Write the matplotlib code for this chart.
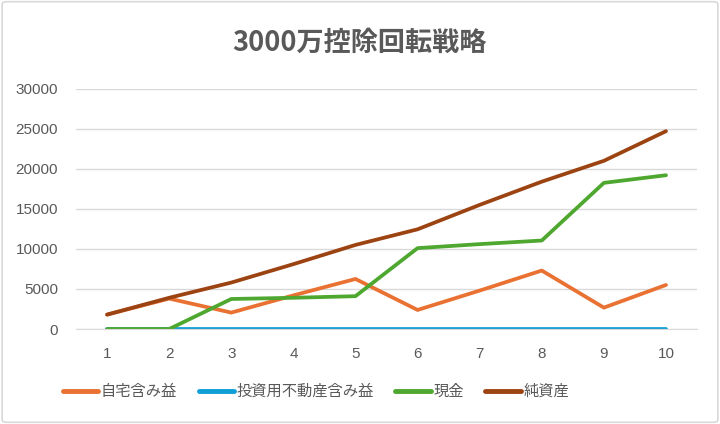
import matplotlib
matplotlib.use("Agg")
import matplotlib.pyplot as plt
import numpy as np
from matplotlib.patches import FancyBboxPatch

plt.rcParams['font.family'] = ['Liberation Sans', 'Noto Sans CJK JP', 'DejaVu Sans']

years = [1, 2, 3, 4, 5, 6, 7, 8, 9, 10]
home_gain = [1800, 3800, 2050, 4200, 6250, 2380, 4800, 7300, 2670, 5500]
invest_gain = [0, 0, 0, 0, 0, 0, 0, 0, 0, 0]
cash = [0, 0, 3750, 3900, 4100, 10100, 10600, 11050, 18250, 19200]
net_assets = [1800, 3900, 5800, 8100, 10500, 12450, 15500, 18400, 21000, 24700]

labels = ['自宅含み益', '投資用不動産含み益', '現金', '純資産']
colors = ['#E97132', '#0F9ED5', '#4EA72E', '#9C4312']
title = '3000万控除回転戦略'
yticks = [0, 5000, 10000, 15000, 20000, 25000, 30000]

fig = plt.figure(figsize=(7.2, 4.24), dpi=100)
border = FancyBboxPatch((0.003, 0.004), 0.994, 0.992, boxstyle="round,pad=0,rounding_size=0.006",
                        transform=fig.transFigure, fill=False, edgecolor='#d9d9d9', lw=1.2)
fig.patches.append(border)

ax = fig.add_axes([0.1056, 0.224, 0.8625, 0.5667])
for s, c, lab in zip([home_gain, invest_gain, cash, net_assets], colors, labels):
    ax.plot(years, s, color=c, lw=2.7, label=lab, solid_capstyle='round', solid_joinstyle='round')

ax.set_xlim(0.5, 10.5)
ax.set_ylim(0, 30000)
ax.set_yticks(yticks)
ax.set_yticklabels([str(v) for v in yticks])
ax.set_xticks(years)
ax.grid(axis='y', color='#d9d9d9', lw=1)
ax.set_axisbelow(True)
for sp in ['top', 'right', 'left']:
    ax.spines[sp].set_visible(False)
ax.spines['bottom'].set_color('#d9d9d9')
ax.tick_params(axis='both', length=0, colors='#595959', labelsize=11)
ax.tick_params(axis='y', pad=13)
ax.tick_params(axis='x', pad=13)

fig.text(0.499, 0.9, title, ha='center', va='center', fontsize=19.5, fontweight='bold',
         color='#595959', family=['Noto Sans CJK JP', 'DejaVu Sans'])

leg = fig.legend(loc='center', bbox_to_anchor=(0.439, 0.077), ncol=4, frameon=False,
                 handlelength=2.3, handletextpad=0.2, columnspacing=1.4,
                 prop={'family': ['Noto Sans CJK JP', 'DejaVu Sans'], 'size': 11})
for t in leg.get_texts():
    t.set_color('#595959')
for h in leg.get_lines():
    h.set_linewidth(3.5)

fig.savefig('out.png', dpi=100)
